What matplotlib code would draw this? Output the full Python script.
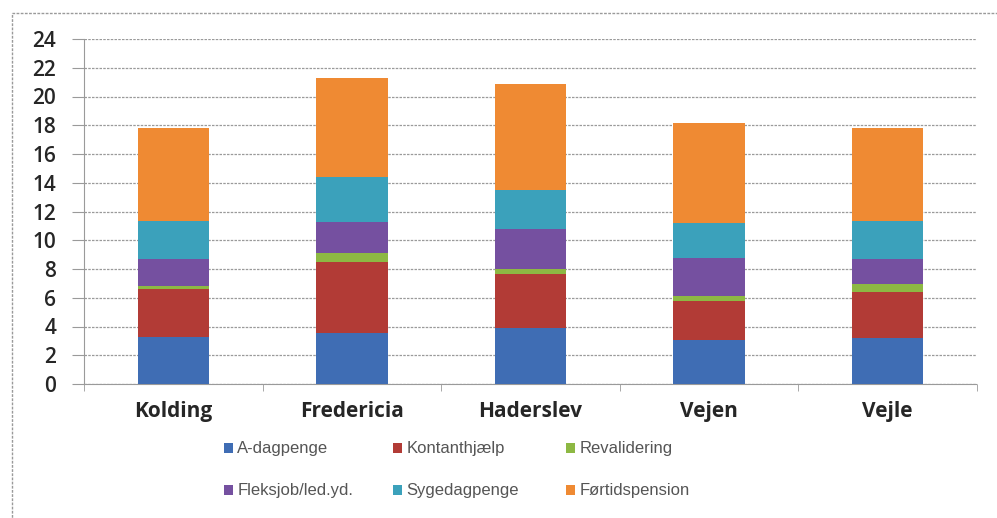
import matplotlib.pyplot as plt
import matplotlib.patches as mpatches
import numpy as np

# data
kommuner = ['Kolding', 'Fredericia', 'Haderslev', 'Vejen', 'Vejle']
a_dagpenge = [3.25, 3.57, 3.92, 3.06, 3.22]
kontanthjaelp = [3.33, 4.90, 3.75, 2.69, 3.20]
revalidering = [0.26, 0.62, 0.31, 0.37, 0.52]
fleksjob = [1.88, 2.20, 2.78, 2.62, 1.76]
sygedagpenge = [2.60, 3.13, 2.74, 2.44, 2.62]
foertidspension = [6.47, 6.85, 7.37, 7.00, 6.47]

series_names = ['A-dagpenge', 'Kontanthjælp', 'Revalidering',
                'Fleksjob/led.yd.', 'Sygedagpenge', 'Førtidspension']
series_data = [a_dagpenge, kontanthjaelp, revalidering,
               fleksjob, sygedagpenge, foertidspension]
colors = ['#3F6DB4', '#B23B36', '#8DB843', '#7550A0', '#3BA1BB', '#EF8A33']

W, H = 997, 518
fig = plt.figure(figsize=(W / 100, H / 100), dpi=100)
ax = fig.add_axes([84 / W, 1 - 384 / H, (977 - 84) / W, (384 - 39) / H])

x = np.arange(len(kommuner))
bottom = np.zeros(len(kommuner))
handles = []
for name, vals, c in zip(series_names, series_data, colors):
    bars = ax.bar(x, vals, width=0.4, bottom=bottom, color=c, linewidth=0,
                  zorder=3, label=name)
    bottom += np.array(vals)
    handles.append(bars)

ax.set_xlim(-0.5, 4.5)
ax.set_ylim(0, 24)
ax.set_yticks(range(0, 25, 2))
ax.yaxis.grid(True, color='#9a9a9a', linestyle=(0, (2, 1)), linewidth=0.9, zorder=0)
ax.set_axisbelow(True)

for s in ['top', 'right']:
    ax.spines[s].set_visible(False)
ax.spines['left'].set_color('#9a9a9a')
ax.spines['left'].set_linestyle((0, (2, 1)))
ax.spines['bottom'].set_color('#9a9a9a')
ax.spines['bottom'].set_linestyle((0, (2, 1)))

ax.tick_params(axis='y', length=9, color='#9a9a9a', pad=11,
               labelsize=15, labelcolor='#262626')
for lbl in ax.get_yticklabels():
    lbl.set_fontfamily('Open Sans')
    lbl.set_fontweight('semibold')

ax.set_xticks(x)
ax.set_xticklabels(kommuner, fontsize=15, fontweight='bold',
                   family='Open Sans', color='#262626')
ax.tick_params(axis='x', length=0, pad=12)
ax.set_xticks(np.arange(-0.5, 5, 1), minor=True)
ax.tick_params(axis='x', which='minor', length=5, color='#9a9a9a')

# legend, one entry per slot (row-major, like the original)
legend_pos = [(224, 449), (393, 449), (566, 449),
              (224, 491), (393, 491), (566, 491)]
for h, name, (lx, ly) in zip(handles, series_names, legend_pos):
    lg = fig.legend([h], [name], loc='center left',
                    bbox_to_anchor=(lx / W, 1 - ly / H), frameon=False,
                    handlelength=0.55, handleheight=0.55, handletextpad=0.25,
                    borderpad=0, borderaxespad=0,
                    prop={'family': 'Liberation Sans', 'size': 12})
    for t in lg.get_texts():
        t.set_color('#555555')

# outer chart frame
frame = mpatches.Rectangle((12 / W, 0 - 0.05), 1.1, 1 - 13 / H + 0.05,
                           transform=fig.transFigure, fill=False,
                           edgecolor='#9a9a9a', linestyle=(0, (2, 1)),
                           linewidth=1.0, clip_on=False)
fig.patches.append(frame)

fig.savefig('out.png', dpi=100)
